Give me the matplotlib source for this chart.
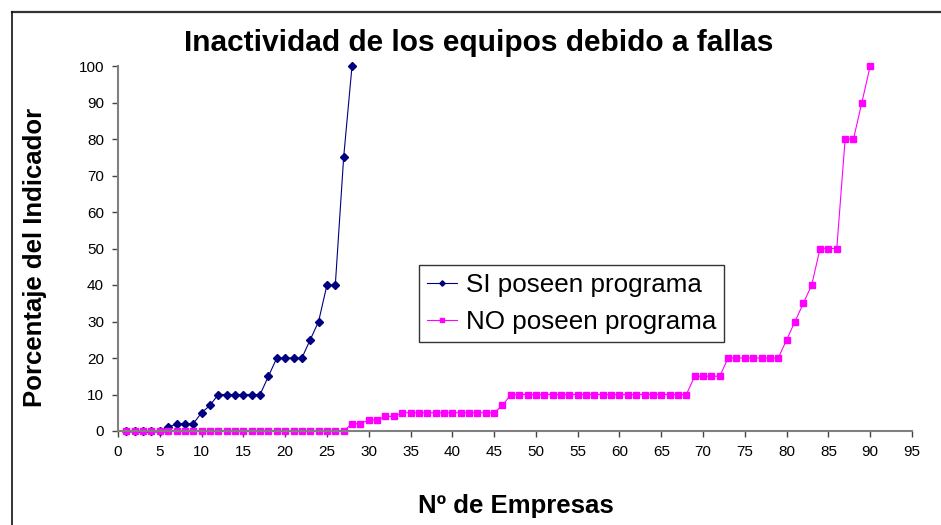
import matplotlib
matplotlib.use("Agg")
import matplotlib.pyplot as plt
from matplotlib.lines import Line2D
import numpy as np

plt.rcParams["font.family"] = ["Liberation Sans", "DejaVu Sans"]

# empresas que SI poseen programa de mantenimiento (1..28)
si_empresas = np.arange(1, 29)
si_valores = [0, 0, 0, 0, 0, 1, 2, 2, 2, 5, 7, 10, 10, 10, 10, 10, 10, 15,
              20, 20, 20, 20, 25, 30, 40, 40, 75, 100]

# empresas que NO poseen programa (1..90)
no_empresas = np.arange(1, 91)
no_valores = ([0] * 27 + [2, 2, 3, 3, 4, 4] + [5] * 12 + [7] + [10] * 22
              + [15] * 4 + [20] * 7 + [25, 30, 35, 40, 50, 50, 50, 80, 80, 90, 100])

x_ticks = np.arange(0, 96, 5)
y_ticks = np.arange(0, 101, 10)

W, H = 941, 525
fig = plt.figure(figsize=(W / 100, H / 100), dpi=100)

# marco del área del gráfico
fig.add_artist(Line2D([12 / W, 1.0], [1 - 12 / H] * 2, color="#333333", lw=1.6))
fig.add_artist(Line2D([12 / W] * 2, [0.0, 1 - 12 / H], color="#111111", lw=1.2))

ax = fig.add_axes([118 / W, (H - 431) / H, (912 - 118) / W, (431 - 66) / H])

ax.plot(si_empresas, si_valores, color="#000080", lw=0.8, marker="D", ms=3.9,
        label="SI poseen programa", clip_on=False)
ax.plot(no_empresas, no_valores, color="#FF00FF", lw=0.8, marker="s", ms=4.4,
        label="NO poseen programa", clip_on=False)

ax.set_xlim(0, 95)
ax.set_ylim(0, 100)
ax.set_xticks(x_ticks)
ax.set_yticks(y_ticks)
ax.tick_params(direction="out", length=4, width=1, color="#444444",
               labelsize=11, pad=6)
for lado in ("top", "right"):
    ax.spines[lado].set_visible(False)
for lado in ("left", "bottom"):
    ax.spines[lado].set_color("#808080")
    ax.spines[lado].set_linewidth(1.5)

fig.text(479 / W, 1 - 43 / H, "Inactividad de los equipos debido a fallas",
         ha="center", va="center", fontsize=21.5, fontweight="bold")
fig.text(516 / W, 1 - 506 / H, "Nº de Empresas", ha="center", va="center",
         fontsize=18.5, fontweight="bold")
fig.text(35 / W, 1 - 257 / H, "Porcentaje del Indicador", ha="center",
         va="center", rotation=90, fontsize=18.5, fontweight="bold")

leg = ax.legend(loc="upper left", bbox_to_anchor=(0.379, 0.4548), borderaxespad=0,
                fontsize=18.7, frameon=True, fancybox=False, edgecolor="black",
                handlelength=1.15, handletextpad=0.35, borderpad=0.3,
                labelspacing=0.5, markerscale=0.7)
leg.get_frame().set_linewidth(1.0)

fig.savefig("out.png", dpi=100)
